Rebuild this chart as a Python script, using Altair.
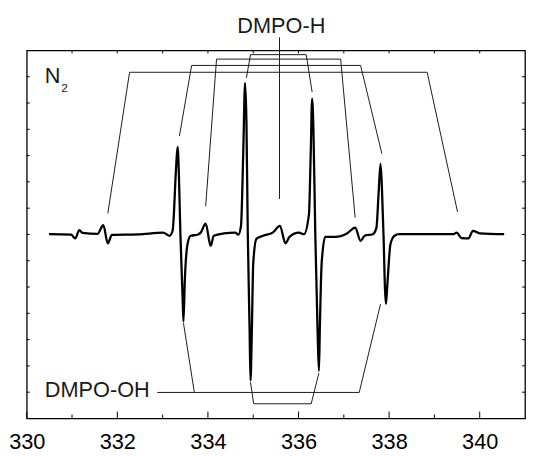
import altair as alt
import pandas as pd

# ---- EPR spectrum (field in mT, arbitrary intensity) ----
field = [330.49, 330.98, 331.07, 331.16, 331.23, 331.56, 331.69, 331.79, 331.88, 332.46,
         333.01, 333.15, 333.22, 333.30, 333.33, 333.36, 333.39, 333.44, 333.46, 333.49,
         333.55, 333.62, 333.77, 333.84, 333.95, 334.06, 334.13, 334.35, 334.60, 334.67,
         334.73, 334.78, 334.82, 334.85, 334.88, 334.92, 334.94, 334.97, 335.00, 335.07,
         335.22, 335.43, 335.59, 335.71, 335.80, 336.01, 336.12, 336.23, 336.27, 336.30,
         336.33, 336.37, 336.42, 336.45, 336.47, 336.51, 336.59, 336.81, 337.07, 337.25,
         337.37, 337.46, 337.64, 337.72, 337.77, 337.81, 337.84, 337.88, 337.91, 337.93,
         337.96, 338.03, 338.12, 338.22, 339.42, 339.49, 339.60, 339.75, 339.85, 340.00,
         340.54]
intensity = [7.01, 6.99, 6.85, 7.16, 7.06, 7.02, 7.35, 6.66, 6.98, 7.00,
             7.07, 6.95, 7.14, 9.64, 10.33, 9.20, 7.14, 4.63, 3.69, 5.26,
             6.64, 6.95, 6.99, 7.07, 7.41, 6.57, 6.95, 7.04, 7.07, 6.99,
             7.33, 10.14, 12.77, 11.27, 7.02, 3.38, 1.44, 3.38, 5.89, 6.83,
             6.95, 7.07, 7.33, 6.66, 6.91, 7.07, 7.01, 7.76, 10.14, 12.17,
             10.89, 7.02, 3.38, 1.81, 3.38, 5.89, 6.91, 6.91, 7.04, 7.26,
             6.76, 6.95, 7.01, 7.26, 8.64, 9.68, 8.83, 6.76, 4.88, 4.36,
             5.07, 6.64, 6.95, 7.01, 7.01, 7.07, 6.86, 6.85, 7.14, 7.04,
             7.01]

# ---- stick diagrams (group, x, y) ----
stick_group = ["H1"] * 4 + ["H2"] * 4 + ["H3"] * 4 + ["H4"] * 4 + ["Hc"] * 2 + \
              ["OH1"] * 3 + ["OH1b"] * 2 + ["OH2"] * 4
stick_x = [331.79, 332.27, 338.84, 339.51,
           333.37, 333.64, 337.37, 337.84,
           333.95, 334.19, 336.93, 337.25,
           334.85, 334.94, 336.17, 336.30,
           335.58, 335.58,
           332.88, 337.34, 337.81,
           333.46, 333.70,
           334.94, 335.01, 336.28, 336.45]
stick_y = [7.80, 13.17, 13.17, 7.86,
           10.74, 13.43, 13.43, 10.07,
           8.07, 13.67, 13.67, 7.64,
           12.96, 13.84, 13.84, 12.42,
           14.50, 8.35,
           0.99, 0.99, 4.35,
           3.63, 0.99,
           1.38, 0.56, 0.56, 1.73]

# ---- axis ticks ----
x_labels = [330, 332, 334, 336, 338, 340]
x_minor = [331, 333, 335, 337, 339]
x_top = [331, 332, 333, 334, 335, 336, 337, 338, 339, 340]
y_ticks = [1, 2, 3, 4, 5, 6, 7, 8, 9, 10, 11, 12, 13]

# ---- labels ----
texts = ["DMPO-H", "DMPO-OH", "N"]
text_x = [335.62, 330.40, 330.40]
text_y = [14.91, 1.08, 13.04]
sub_text = ["2"]
sub_x = [330.76]
sub_y = [12.57]

XMIN, XMAX, YMIN, YMAX = 330, 341, 0, 14
W, H = 505, 373
px_x = (XMAX - XMIN) / W
px_y = (YMAX - YMIN) / H

xs = alt.Scale(domain=[XMIN, XMAX], nice=False, zero=False)
ys = alt.Scale(domain=[YMIN, YMAX], nice=False, zero=False)
FONT = "Liberation Sans"

X = alt.X("x:Q", scale=xs, title=None,
          axis=alt.Axis(values=x_labels, ticks=False, domain=False, grid=False,
                        labelFontSize=22, labelFont=FONT, labelColor="black",
                        labelPadding=13, labelFlush=False, format="d"))
Y = alt.Y("y:Q", scale=ys, axis=None)

spec = pd.DataFrame({"x": field, "y": intensity})
sticks = pd.DataFrame({"g": stick_group, "x": stick_x, "y": stick_y})
sticks["o"] = range(len(sticks))

rows = []
for v in x_labels:
    rows.append({"x": v, "x2": v, "y": YMIN, "y2": YMIN + 7 * px_y})
for v in x_minor:
    rows.append({"x": v, "x2": v, "y": YMIN, "y2": YMIN + 4 * px_y})
for v in x_top:
    rows.append({"x": v, "x2": v, "y": YMAX, "y2": YMAX - 3 * px_y})
for v in y_ticks:
    rows.append({"x": XMIN, "x2": XMIN + 3 * px_x, "y": v, "y2": v})
    rows.append({"x": XMAX, "x2": XMAX - 3 * px_x, "y": v, "y2": v})
ticks = pd.DataFrame(rows)

tick_layer = alt.Chart(ticks).mark_rule(color="black", strokeWidth=1).encode(
    x=X, x2="x2:Q", y=Y, y2="y2:Q")

stick_layer = alt.Chart(sticks).mark_line(color="#1a1a1a", strokeWidth=1).encode(
    x=X, y=Y, detail="g:N", order="o:Q")

spec_layer = alt.Chart(spec).mark_line(color="black", strokeWidth=2.3,
                                       interpolate="monotone").encode(x=X, y=Y)

tdf = pd.DataFrame({"x": text_x, "y": text_y, "t": texts})
t_h = alt.Chart(tdf.iloc[[0]]).mark_text(font=FONT, fontSize=22, align="center",
                                         baseline="middle", color="#1a1a1a").encode(
    x=X, y=Y, text="t:N")
t_l = alt.Chart(tdf.iloc[[1, 2]]).mark_text(font=FONT, fontSize=22, align="left",
                                            baseline="middle", color="#1a1a1a").encode(
    x=X, y=Y, text="t:N")
sdf = pd.DataFrame({"x": sub_x, "y": sub_y, "t": sub_text})
t_s = alt.Chart(sdf).mark_text(font=FONT, fontSize=12, align="left",
                               baseline="middle", color="#1a1a1a").encode(
    x=X, y=Y, text="t:N")

chart = alt.layer(tick_layer, stick_layer, spec_layer, t_h, t_l, t_s).properties(
    width=W, height=H,
    padding={"left": 0, "top": 4, "right": 0, "bottom": 0},
).configure_view(stroke="black", strokeWidth=1.3)

chart.save("out.html", embed_options={"renderer": "svg", "actions": False})
